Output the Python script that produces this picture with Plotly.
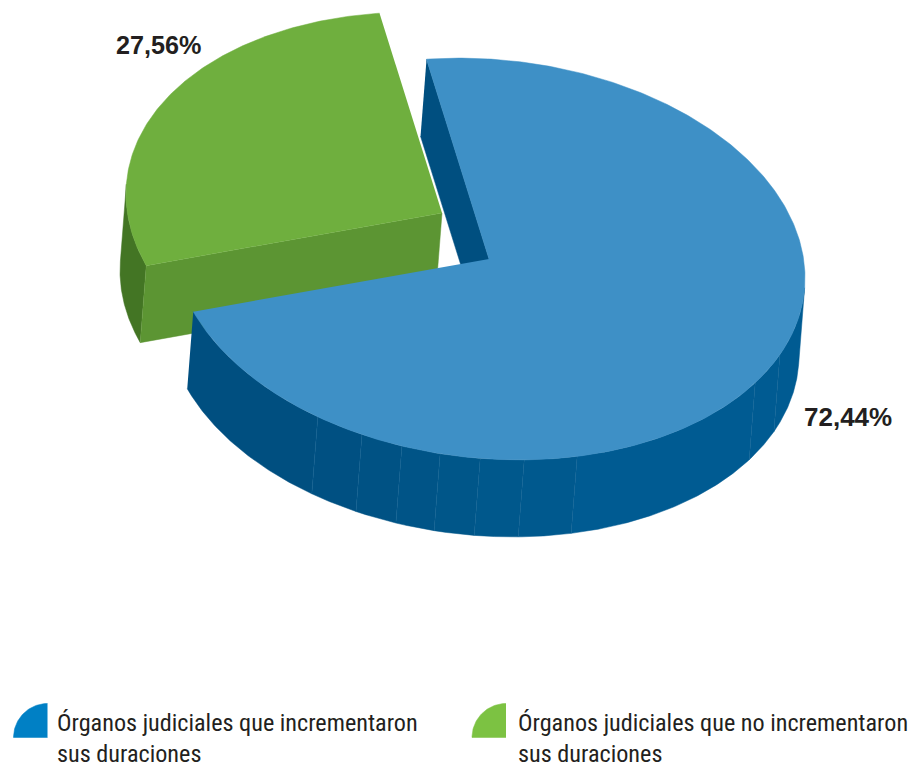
import numpy as np
import plotly.graph_objects as go

# ---- data ----
categories = [["Órganos judiciales que incrementaron", "sus duraciones"],
              ["Órganos judiciales que no incrementaron", "sus duraciones"]]
values = [72.44, 27.56]
value_labels = ["72,44%", "27,56%"]

# ---- geometry / style of the tilted pie (pixels of the page) ----
W, H = 915, 767
CX, CY = 489, 259
RX, SKEW, RY = 316, 19, 200
DEPTH = (-6, 77)
EXPLODE = (-47, -46)
START = -101.4

TOP = ["#3E90C6", "#6FAF3E"]
INNER = "#004F80"
FRONT = "#5C9533"
GREEN_WALL = "#437524"
SEAM = "#0F6296"
LEGEND_COL = ["#0080C5", "#7CC242"]
INK = "#231F20"
# silhouette angle: where the rim's tangent runs along the depth direction
TANGENT = np.degrees(np.arctan2(RY * DEPTH[0], -RX * DEPTH[1] + SKEW * DEPTH[0]))
TANGENT_RIGHT = TANGENT - 180 if TANGENT > 90 else TANGENT
if abs(TANGENT_RIGHT) > 90:
    TANGENT_RIGHT += 180
TANGENT_LEFT = TANGENT_RIGHT + 180
FACETS = [(122.8, "#004F80"), (113.7, "#005082"), (106, "#005284"), (98.9, "#005487"),
          (91.6, "#005689"), (83.6, "#00588C"), (73.8, "#00598E"), (32.6, "#005B92"),
          (23, "#005B92"), (TANGENT_RIGHT, "#005B92")]


def rim(t, off=(0, 0), deep=False):
    t = np.radians(np.asarray(t, dtype=float))
    x = CX + off[0] + RX * np.cos(t) + (DEPTH[0] if deep else 0)
    y = CY + off[1] + SKEW * np.cos(t) + RY * np.sin(t) + (DEPTH[1] if deep else 0)
    return x, y


def apex(off=(0, 0), deep=False):
    return (CX + off[0] + (DEPTH[0] if deep else 0), CY + off[1] + (DEPTH[1] if deep else 0))


def poly(fig, x, y, color):
    fig.add_trace(go.Scatter(x=list(x), y=list(y), mode="lines", fill="toself",
                             fillcolor=color, line=dict(width=0.5, color=color),
                             hoverinfo="skip", showlegend=False))


def wall(fig, a, b, off, color):
    t = np.linspace(a, b, 80)
    x1, y1 = rim(t, off)
    x2, y2 = rim(t[::-1], off, True)
    poly(fig, np.r_[x1, x2], np.r_[y1, y2], color)


fig = go.Figure()
sweep_blue = 360 * values[0] / sum(values)
sweep_green = 360 * values[1] / sum(values)
blue_a, blue_b = START, START + sweep_blue
green_a, green_b = blue_b, blue_b + sweep_green

# green slice (behind)
wall(fig, green_a, TANGENT_LEFT, EXPLODE, GREEN_WALL)
ax, ay = apex(EXPLODE)
dx, dy = apex(EXPLODE, True)
cx1, cy1 = rim(green_a, EXPLODE)
cx2, cy2 = rim(green_a, EXPLODE, True)
poly(fig, [ax, dx, cx2, cx1], [ay, dy, cy2, cy1], FRONT)
t = np.linspace(green_a, green_b, 160)
x, y = rim(t, EXPLODE)
poly(fig, np.r_[ax, x], np.r_[ay, y], TOP[1])

# blue slice
ax, ay = apex()
dx, dy = apex(deep=True)
sx1, sy1 = rim(blue_a)
sx2, sy2 = rim(blue_a, deep=True)
poly(fig, [sx1, ax, dx, sx2], [sy1, ay, dy, sy2], INNER)
prev = blue_b
for ang, col in FACETS:
    wall(fig, prev, ang, (0, 0), col)
    prev = ang
for ang, _ in FACETS[:-1]:
    x1, y1 = rim(ang)
    x2, y2 = rim(ang, deep=True)
    fig.add_trace(go.Scatter(x=[float(x1), float(x2)], y=[float(y1), float(y2)], mode="lines",
                             line=dict(width=0.4, color=SEAM), hoverinfo="skip", showlegend=False))
t = np.linspace(blue_a, blue_b, 400)
x, y = rim(t)
poly(fig, np.r_[ax, x], np.r_[ay, y], TOP[0])

# legend swatches: quarter discs
for i, left in enumerate([13.5, 472.0]):
    r, base, right = 34, 737.5, left + 34
    a = np.radians(np.linspace(180, 270, 40))
    poly(fig, np.r_[right, right + r * np.cos(a)], np.r_[base, base + r * np.sin(a)], LEGEND_COL[i])

notes = [
    dict(x=801.5, y=417, text=f"<b>{value_labels[0]}</b>",
         font=dict(family="Liberation Sans", size=26, color=INK),
         xanchor="left", yanchor="middle", showarrow=False),
    dict(x=113.5, y=45, text=f"<b>{value_labels[1]}</b>",
         font=dict(family="Liberation Sans", size=25.2, color=INK),
         xanchor="left", yanchor="middle", showarrow=False),
]
for i, left in enumerate([55, 516]):
    for j, line in enumerate(categories[i]):
        notes.append(dict(x=left, y=722.5 + j * 31, text=line, align="left", xanchor="left", yanchor="middle",
                          showarrow=False,
                          font=dict(family="Roboto Condensed, Roboto", size=24.2, color=INK)))

fig.update_layout(
    width=W, height=H, margin=dict(l=0, r=0, t=0, b=0), paper_bgcolor="white", plot_bgcolor="white",
    xaxis=dict(range=[0, W], visible=False, fixedrange=True),
    yaxis=dict(range=[H, 0], visible=False, fixedrange=True),
    annotations=notes, showlegend=False,
)
fig.write_html("out.html", config={"displayModeBar": False},
               post_script="document.body.style.margin='0';document.body.style.overflow='hidden';")
